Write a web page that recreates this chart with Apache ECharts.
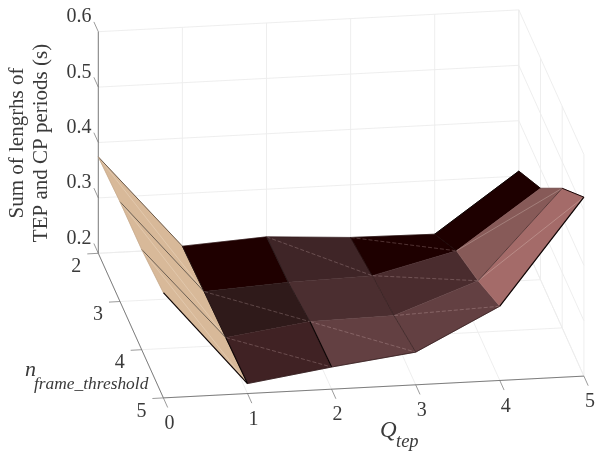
<!DOCTYPE html>
<html><head><meta charset="utf-8">
<style>html,body{margin:0;padding:0;background:#fff}#c{width:595px;height:451px}</style>
<script src="https://cdn.jsdelivr.net/npm/echarts@6/dist/echarts.min.js"></script>
</head><body><div id="c"></div>
<script>
// ---- data ----
const qTicks = [0, 1, 2, 3, 4, 5];
const nTicks = [2, 3, 4, 5];
const zTicks = [0.2, 0.3, 0.4, 0.5, 0.6];
const zTickLabels = ['0.2', '0.3', '0.4', '0.5', '0.6'];
const lengthsN2 = [0.374, 0.205, 0.214, 0.205, 0.203, 0.309];
const lengthsN3 = [0.380, 0.210, 0.219, 0.223, 0.260, 0.365];
const lengthsN4 = [0.381, 0.214, 0.235, 0.238, 0.293, 0.452];
const lengthsN5 = [0.390, 0.218, 0.240, 0.259, 0.334, 0.523];
const zRows = [lengthsN2, lengthsN3, lengthsN4, lengthsN5];

// ---- styles ----
const cellColors = [
  ['#d8b999', '#1f0000', '#3f2527', '#1e0000', '#1e0000'],
  ['#d8b999', '#2f1a1a', '#4b2e30', '#4a2c2e', '#875a58'],
  ['#d8b999', '#402224', '#634042', '#634042', '#a46b69']
];
const FONT = '"Liberation Serif","Times New Roman",serif';
const INK = '#3a3a3a', GRID = '#ececec', AXIS = '#707070';

// oblique view: pixel-plane position of a (Q, n, z) point
const O = [98.3, 253.3], EQ = [84.1, -4.36], EN = [21.7, 48.2], EZ = 554;
function plane(q, n, z) {
  return [O[0] + EQ[0] * q + EN[0] * (n - 2),
          O[1] + EQ[1] * q + EN[1] * (n - 2) - EZ * (z - 0.2)];
}
const surf = (qi, ni) => plane(qTicks[qi], nTicks[ni], zRows[ni][qi]);

// index-based edges [qi0, ni0, qi1, ni1, colour, width]
const edges = [];
const E = (a, b, c, d, col, w) => edges.push([a, b, c, d, col, w]);
E(0,0,1,0,'#4a3a2c',0.8); E(0,1,1,1,'#5e5247',0.9); E(0,2,1,2,'#5e5247',0.9); E(0,3,1,3,'#0c0404',1.2);
E(0,0,0,1,'#c0a284',0.6); E(0,1,0,2,'#c0a284',0.6); E(0,2,0,3,'#c0a284',0.6);
E(1,0,1,1,'#1a0c0c',0.9); E(1,1,1,2,'#1a0c0c',0.9); E(1,2,1,3,'#0c0404',1.1);
E(2,0,2,1,'#1c1010',0.7); E(2,1,2,2,'#1c1010',0.7); E(2,2,2,3,'#0c0404',1.2);
E(3,0,3,1,'#1c0808',0.7); E(3,1,3,2,'#2a1818',0.6); E(3,2,3,3,'#2a1818',0.6);
E(4,0,4,1,'#1c0808',0.8);
E(1,3,2,3,'#2a1416',0.7); E(2,3,3,3,'#2a1416',0.7); E(3,3,4,3,'#2a1416',0.7); E(4,3,5,3,'#0c0404',1.2);
E(4,0,5,0,'#0c0404',1); E(4,2,5,2,'#3a2424',0.7);
E(5,0,5,1,'#160404',0.9); E(5,1,5,2,'#6e4a4a',0.7); E(5,2,5,3,'#160404',1);
E(1,0,2,0,'#2a1416',0.4); E(2,0,3,0,'#2a1416',0.4); E(3,0,4,0,'#1c0808',0.5);
// visible triangle seams [qi, ni]: (qi,ni) -> (qi+1,ni+1)
const seams = [[0,0],[0,1],[0,2],[1,1],[1,2],[2,0],[2,2],[3,0],[3,1],[3,2],[4,1],[4,2]];

// build grid line segments as index items
const gridLines = [];
zTicks.forEach(z => {
  gridLines.push([0, 2, z, 5, 2, z]);      // back wall horizontal
  gridLines.push([5, 2, z, 5, 5, z]);      // side wall horizontal
});
qTicks.forEach(q => {
  gridLines.push([q, 2, 0.2, q, 2, 0.6]);  // back wall vertical
  gridLines.push([q, 2, 0.2, q, 5, 0.2]);  // floor
});
nTicks.forEach(n => {
  gridLines.push([5, n, 0.2, 5, n, 0.6]);  // side wall vertical
  gridLines.push([0, n, 0.2, 5, n, 0.2]);  // floor
});

const axisLines = [
  [0, 2, 0.2, 0, 2, 0.6], [0, 2, 0.2, 0, 5, 0.2], [0, 5, 0.2, 5, 5, 0.2]
];

const cells = [];
cellColors.forEach((row, ni) => row.forEach((c, qi) => cells.push([qi, ni])));

function lineEl(api, a, b, style) {
  const p = api.coord(a), r = api.coord(b);
  return { type: 'line', shape: { x1: p[0], y1: p[1], x2: r[0], y2: r[1] }, style: style, silent: true };
}
function tx(api, pos, text, size) {
  const p = api.coord(pos);
  return { type: 'text', x: p[0], y: p[1], silent: true,
    style: { text: text, font: size + 'px ' + FONT, fill: INK, align: 'center', verticalAlign: 'middle' } };
}

// labels: kind, value
const labelItems = [];
zTicks.forEach((z, i) => labelItems.push(['z', i]));
nTicks.forEach((n, i) => labelItems.push(['n', i]));
qTicks.forEach((q, i) => labelItems.push(['q', i]));

const baseSeries = { type: 'custom', coordinateSystem: 'cartesian2d', silent: true, animation: false, clip: false };

const option = {
  backgroundColor: '#fff',
  animation: false,
  grid: { left: 0, top: 0, right: 0, bottom: 0 },
  xAxis: { type: 'value', min: 0, max: 595, show: false },
  yAxis: { type: 'value', min: 0, max: 451, inverse: true, show: false },
  series: [
    Object.assign({}, baseSeries, { name: 'grid', z: 1, data: gridLines, renderItem(p, api) {
      const d = gridLines[p.dataIndex];
      return lineEl(api, plane(d[0], d[1], d[2]), plane(d[3], d[4], d[5]), { stroke: GRID, lineWidth: 0.9 });
    }}),
    Object.assign({}, baseSeries, { name: 'axes', z: 2, data: axisLines, renderItem(p, api) {
      const d = axisLines[p.dataIndex];
      return lineEl(api, plane(d[0], d[1], d[2]), plane(d[3], d[4], d[5]), { stroke: AXIS, lineWidth: 0.9 });
    }}),
    Object.assign({}, baseSeries, { name: 'ticks', z: 2, data: labelItems, renderItem(p, api) {
      const d = labelItems[p.dataIndex];
      let a, off;
      if (d[0] === 'z') { a = plane(0, 2, zTicks[d[1]]); off = [-4.4, -9.8]; }
      else if (d[0] === 'n') { a = plane(0, nTicks[d[1]], 0.2); off = [-11, 0.6]; }
      else { a = plane(qTicks[d[1]], 5, 0.2); off = [4.3, 9.6]; }
      return lineEl(api, a, [a[0] + off[0], a[1] + off[1]], { stroke: AXIS, lineWidth: 0.7 });
    }}),
    Object.assign({}, baseSeries, { name: 'surface', z: 3, data: cells, renderItem(p, api) {
      const [qi, ni] = cells[p.dataIndex];
      const pts = [surf(qi, ni), surf(qi + 1, ni), surf(qi + 1, ni + 1), surf(qi, ni + 1)].map(v => api.coord(v));
      const col = cellColors[ni][qi];
      return { type: 'polygon', shape: { points: pts }, silent: true,
        style: { fill: col, stroke: col, lineWidth: 0.5 } };
    }}),
    Object.assign({}, baseSeries, { name: 'seams', z: 4, data: seams, renderItem(p, api) {
      const [qi, ni] = seams[p.dataIndex];
      const solid = qi === 0 || qi === 4;
      return lineEl(api, surf(qi, ni), surf(qi + 1, ni + 1), solid
        ? { stroke: 'rgba(255,245,235,0.4)', lineWidth: 0.6 }
        : { stroke: 'rgba(255,225,225,0.38)', lineWidth: 0.6, lineDash: [4, 2] });
    }}),
    Object.assign({}, baseSeries, { name: 'edges', z: 5, data: edges, renderItem(p, api) {
      const e = edges[p.dataIndex];
      return lineEl(api, surf(e[0], e[1]), surf(e[2], e[3]), { stroke: e[4], lineWidth: e[5] });
    }}),
    Object.assign({}, baseSeries, { name: 'labels', z: 6, data: labelItems, renderItem(p, api) {
      const d = labelItems[p.dataIndex];
      let a, off, text;
      if (d[0] === 'z') { a = plane(0, 2, zTicks[d[1]]); off = [-19.3, -14.7]; text = zTickLabels[d[1]]; }
      else if (d[0] === 'n') { a = plane(0, nTicks[d[1]], 0.2); off = [-22, 13.5]; text = String(nTicks[d[1]]); }
      else { a = plane(qTicks[d[1]], 5, 0.2); off = [6, 26]; text = String(qTicks[d[1]]); }
      return tx(api, [a[0] + off[0], a[1] + off[1]], text, 20);
    }})
  ],
  graphic: { elements: [
    { type: 'text', x: 17, y: 143, rotation: Math.PI / 2, silent: true,
      style: { text: 'Sum of lengrhs of', font: '21px ' + FONT, fill: INK, align: 'center', verticalAlign: 'middle' } },
    { type: 'text', x: 41, y: 143, rotation: Math.PI / 2, silent: true,
      style: { text: 'TEP and CP periods (s)', font: '21px ' + FONT, fill: INK, align: 'center', verticalAlign: 'middle' } },
    { type: 'text', x: 380, y: 431, silent: true,
      style: { text: 'Q', font: 'italic 23px ' + FONT, fill: INK, align: 'left', verticalAlign: 'middle' } },
    { type: 'text', x: 396, y: 442, silent: true,
      style: { text: 'tep', font: 'italic 18.5px ' + FONT, fill: INK, align: 'left', verticalAlign: 'middle' } },
    { type: 'text', x: 25, y: 370, silent: true,
      style: { text: 'n', font: 'italic 22px ' + FONT, fill: INK, align: 'left', verticalAlign: 'middle' } },
    { type: 'text', x: 34, y: 384, silent: true,
      style: { text: 'frame_threshold', font: 'italic 17.4px ' + FONT, fill: INK, align: 'left', verticalAlign: 'middle' } }
  ] }
};
const chart = echarts.init(document.getElementById('c'), null, { renderer: 'canvas' });
chart.setOption(option);
</script></body></html>
